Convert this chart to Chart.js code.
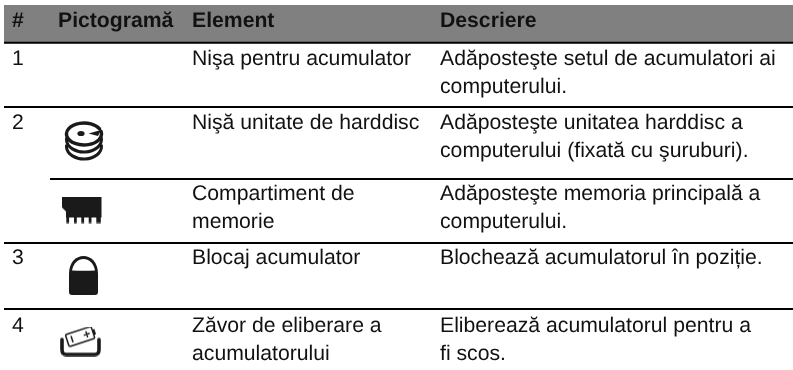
<!DOCTYPE html>
<html lang="ro">
<head>
<meta charset="utf-8">
<title>Pictogramă</title>
<script src="https://cdn.jsdelivr.net/npm/chart.js@4"></script>
<style>
html, body { margin: 0; padding: 0; background: #fff; }
canvas { display: block; }
</style>
</head>
<body>
<canvas id="tableChart" width="793" height="370"></canvas>
<script>
// ====================== TABLE CONTENT ======================
const headers = ['#', 'Pictogramă', 'Element', 'Descriere'];
const rowNumbers = ['1', '2', '', '3', '4'];
const elements = [
    ['Nişa pentru acumulator'],
    ['Nişă unitate de harddisc'],
    ['Compartiment de', 'memorie'],
    ['Blocaj acumulator'],
    ['Zăvor de eliberare a', 'acumulatorului']
];
const descriptions = [
    ['Adăposteşte setul de acumulatori ai', 'computerului.'],
    ['Adăposteşte unitatea harddisc a', 'computerului (fixată cu şuruburi).'],
    ['Adăposteşte memoria principală a', 'computerului.'],
    ['Blochează acumulatorul în poziție.'],
    ['Eliberează acumulatorul pentru a', 'fi scos.']
];
const rowIcons = ['', 'disk', 'memory', 'lock', 'battery'];

// ====================== LAYOUT (page pixels, fed through the scales) ======================
const columnX = [12, 58, 192, 440];
const rowBaselines = [65, 129, 200, 264, 332];
const iconCenters = [null, [84, 141], [82, 210], [83.5, 275.5], [80.5, 341.5]];
const lineHeight = 28;
const rules = [[4, 42.7], [4, 107], [50, 179], [4, 243], [4, 309]];
const rightEdge = 793;

// ====================== ICONS ======================
function makeIcon(width, height, paint) {
    const c = document.createElement('canvas');
    c.width = width;
    c.height = height;
    const g = c.getContext('2d');
    g.fillStyle = '#1a1a1a';
    g.strokeStyle = '#1a1a1a';
    g.lineCap = 'round';
    g.lineJoin = 'round';
    paint(g);
    return c;
}

function paintDisk(g) {
    g.lineWidth = 3;
    // lower platters
    [18.5, 25.5].forEach(cy => {
        g.beginPath();
        g.ellipse(21, cy, 17.5, 12.5, 0, -0.02 * Math.PI, 1.02 * Math.PI);
        g.stroke();
    });
    // top platter, open at the notch
    g.lineWidth = 3.4;
    g.beginPath();
    g.ellipse(21, 13, 17.5, 11, 0, -0.08 * Math.PI, 1.84 * Math.PI);
    g.stroke();
    // notch wedge pointing at the spindle
    g.beginPath();
    g.moveTo(38, 9);
    g.lineTo(25.5, 12.5);
    g.lineTo(35, 15);
    g.closePath();
    g.fill();
    g.beginPath();
    g.ellipse(18, 12.5, 3.6, 2.6, 0, 0, 2 * Math.PI);
    g.fill();
}

function paintMemory(g) {
    g.beginPath();
    g.moveTo(0, 0); g.lineTo(39.5, 0); g.lineTo(39.5, 21);
    g.lineTo(4, 21); g.lineTo(4, 15); g.lineTo(0, 11);
    g.closePath();
    g.fill();
    [[4.3, 2.8], [12, 2.8], [19.3, 2.8], [26.7, 2.8], [34.3, 4.5]].forEach(([x, w]) => g.fillRect(x, 20, w, 6.5));
}

function paintLock(g) {
    g.beginPath();
    g.moveTo(0, 18);
    g.bezierCurveTo(0, 6, 7, 0, 14.5, 0);
    g.bezierCurveTo(22, 0, 29, 6, 29, 18);
    g.lineTo(29, 36);
    g.quadraticCurveTo(29, 39, 26, 39);
    g.lineTo(3, 39);
    g.quadraticCurveTo(0, 39, 0, 36);
    g.closePath();
    g.fill();
    g.fillStyle = '#fff';
    g.beginPath();
    g.moveTo(3, 14.5);
    g.bezierCurveTo(4.5, 7, 9, 3, 14.5, 3);
    g.bezierCurveTo(20, 3, 24.5, 7, 26, 14.5);
    g.quadraticCurveTo(14.5, 15, 3, 14.5);
    g.closePath();
    g.fill();
}

function paintBattery(g) {
    // tray
    g.lineWidth = 3.6;
    g.beginPath();
    g.moveTo(2, 13);
    g.lineTo(2, 23);
    g.quadraticCurveTo(2, 28, 6, 28);
    g.lineTo(35, 28);
    g.quadraticCurveTo(39, 28, 39, 23);
    g.lineTo(39, 13);
    g.stroke();
    // tilted cell
    g.save();
    g.translate(21, 9.5);
    g.rotate(-18 * Math.PI / 180);
    g.lineWidth = 1.5;
    g.fillStyle = '#fff';
    g.beginPath();
    g.roundRect(-14.5, -6, 27, 12.5, 1.5);
    g.fill();
    g.stroke();
    g.fillStyle = '#1a1a1a';
    g.fillRect(12.5, -2.5, 2.4, 5.5);
    g.beginPath();
    g.moveTo(-9.5, -2.5); g.lineTo(-9.5, 3);
    g.moveTo(3.5, 0.2); g.lineTo(8.5, 0.2);
    g.moveTo(6, -2.4); g.lineTo(6, 2.8);
    g.stroke();
    g.restore();
}

const iconImages = {
    disk: makeIcon(42, 40, paintDisk),
    memory: makeIcon(40, 27, paintMemory),
    lock: makeIcon(29, 39, paintLock),
    battery: makeIcon(41, 30, paintBattery)
};

// ====================== TEXT AND HEADER PLUGIN ======================
const tableText = {
    id: 'tableText',
    beforeDatasetsDraw(chart) {
        const { ctx, scales: { x, y } } = chart;
        ctx.save();
        ctx.fillStyle = '#808080';
        ctx.fillRect(x.getPixelForValue(4), y.getPixelForValue(5),
            x.getPixelForValue(rightEdge) - x.getPixelForValue(4), y.getPixelForValue(42) - y.getPixelForValue(5));
        ctx.restore();
    },
    afterDatasetsDraw(chart) {
        const { ctx, scales: { x, y } } = chart;
        const put = (str, col, baseline) => ctx.fillText(str, x.getPixelForValue(columnX[col]), y.getPixelForValue(baseline));
        ctx.save();
        ctx.textBaseline = 'alphabetic';
        ctx.textAlign = 'left';
        ctx.textRendering = 'geometricPrecision';
        ctx.fillStyle = '#111';
        ctx.font = 'bold 21.2px "Liberation Sans"';
        headers.forEach((h, i) => put(h, i, 27));
        ctx.font = '21.2px "Liberation Sans"';
        rowNumbers.forEach((n, i) => put(n, 0, rowBaselines[i]));
        elements.forEach((lines, i) => lines.forEach((l, j) => put(l, 2, rowBaselines[i] + j * lineHeight)));
        descriptions.forEach((lines, i) => lines.forEach((l, j) => put(l, 3, rowBaselines[i] + j * lineHeight)));
        ctx.restore();
    }
};

// ====================== CHART ======================
const ruleDatasets = rules.map(([start, at]) => ({
    type: 'line',
    data: [{ x: start, y: at }, { x: rightEdge, y: at }],
    borderColor: '#000',
    borderWidth: 2,
    pointRadius: 0
}));

const iconDataset = {
    type: 'scatter',
    data: iconCenters.filter(Boolean).map(([cx, cy]) => ({ x: cx, y: cy })),
    pointStyle: rowIcons.filter(Boolean).map(name => iconImages[name])
};

new Chart(document.getElementById('tableChart'), {
    type: 'scatter',
    data: { datasets: [...ruleDatasets, iconDataset] },
    options: {
        responsive: false,
        animation: false,
        layout: { padding: 0, autoPadding: false },
        plugins: { legend: { display: false }, tooltip: { enabled: false } },
        scales: {
            x: { type: 'linear', display: false, min: 0, max: 793 },
            y: { type: 'linear', display: false, min: 0, max: 370, reverse: true }
        }
    },
    plugins: [tableText]
});
</script>
</body>
</html>
